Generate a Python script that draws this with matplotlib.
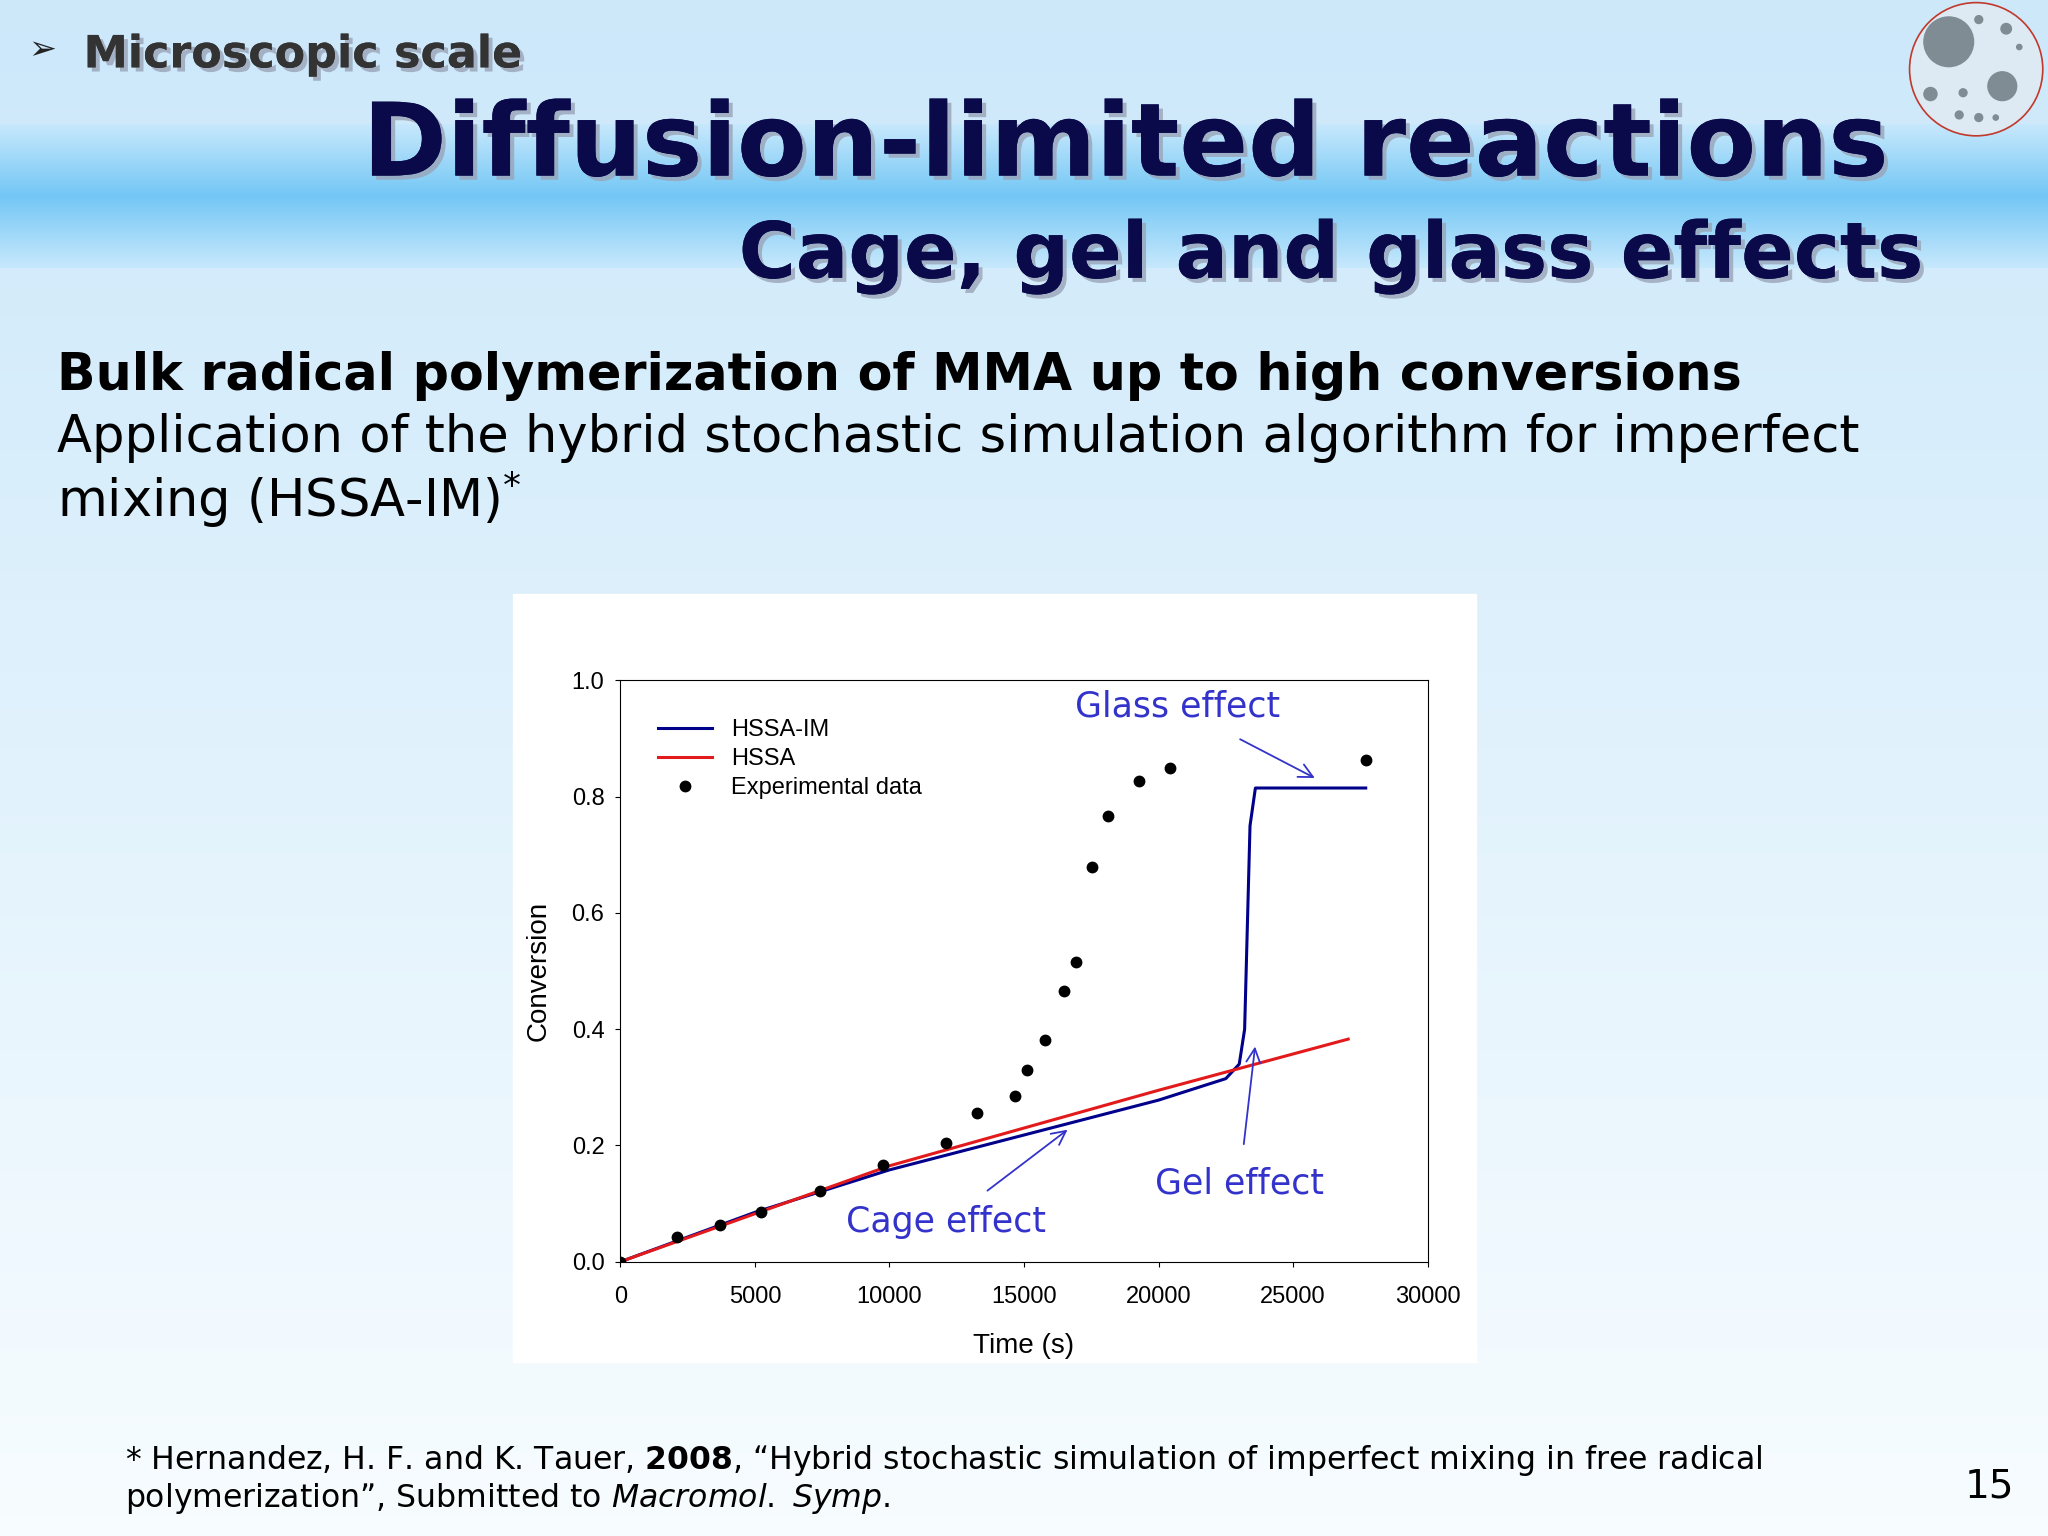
import numpy as np
import matplotlib.pyplot as plt
from matplotlib.patches import Circle, Rectangle
import matplotlib.patheffects as pe

# data
exp_t = [0, 2100, 3700, 5240, 7430, 9760, 12090, 13250, 14660, 15100, 15780, 16500,
         16940, 17520, 18110, 19270, 20440, 27720]
exp_x = [0.0, 0.043, 0.063, 0.085, 0.121, 0.166, 0.204, 0.256, 0.285, 0.33, 0.382,
         0.465, 0.515, 0.679, 0.766, 0.827, 0.849, 0.863]
im_t = [0, 5000, 10000, 15000, 20000, 22500, 23000, 23200, 23400, 23600, 27700]
im_x = [0.0, 0.085, 0.158, 0.218, 0.278, 0.315, 0.34, 0.40, 0.75, 0.815, 0.815]
hssa_t = [0, 10000, 20000, 27050]
hssa_x = [0.0, 0.165, 0.295, 0.383]

W, H = 1568, 1176
fig = plt.figure(figsize=(20.48, 15.36), dpi=100)

# background
bg = fig.add_axes([0, 0, 1, 1])
grad = np.linspace(0, 1, 256)[:, None]
cols = np.zeros((256, 1, 3))
top = np.array([0.80, 0.91, 0.98]); bot = np.array([0.97, 0.99, 1.0])
cols[:, 0, :] = top * (1 - grad) + bot * grad
bg.imshow(cols, extent=[0, W, H, 0], aspect='auto')
band = np.zeros((100, 1, 3))
g = np.abs(np.linspace(-1, 1, 100))[:, None]
band[:, 0, :] = np.array([0.45, 0.78, 0.96]) * (1 - g) + np.array([0.78, 0.91, 0.99]) * g
bg.imshow(band, extent=[0, W, 205, 95], aspect='auto')
bg.add_patch(Rectangle((393, 455), 737, 588, color='white'))
bg.add_patch(Circle((1513, 53), 51, fc='#dde9f3', ec='#c0392b', lw=1.2))
for cx, cy, r in [(1492, 32, 19), (1533, 66, 11), (1478, 72, 5), (1515, 15, 3), (1536, 22, 4),
                  (1503, 71, 3), (1515, 90, 3), (1500, 88, 3), (1528, 90, 2), (1546, 36, 2)]:
    bg.add_patch(Circle((cx, cy), r, color='#7f8c94'))
bg.set_xlim(0, W); bg.set_ylim(H, 0); bg.axis('off')

navy = '#0a0a4a'
shadow = [pe.withSimplePatchShadow(offset=(3, -3), shadow_rgbFace='#9aa4b8', alpha=0.8), pe.Normal()]
bg.text(22, 38, '➢', fontsize=24, color='#222', va='center')
bg.text(64, 42, 'Microscopic scale', fontsize=32, fontweight='bold', color='#333', va='center',
        path_effects=shadow)
bg.text(1446, 113, 'Diffusion-limited reactions', fontsize=73, fontweight='bold', color=navy,
        ha='right', va='center', path_effects=shadow)
bg.text(1472, 196, 'Cage, gel and glass effects', fontsize=56, fontweight='bold', color=navy,
        ha='right', va='center', path_effects=shadow)
bg.text(44, 288, 'Bulk radical polymerization of MMA up to high conversions', fontsize=36.5,
        fontweight='bold', color='black', va='center')
bg.text(44, 335, 'Application of the hybrid stochastic simulation algorithm for imperfect',
        fontsize=36.8, color='black', va='center')
bg.text(44, 382, 'mixing (HSSA-IM)$^{*}$', fontsize=36.8, color='black', va='center')
bg.text(96, 1118, '* Hernandez, H. F. and K. Tauer, $\\bf{2008}$, “Hybrid stochastic simulation of imperfect mixing in free radical',
        fontsize=22.7, va='center')
bg.text(96, 1147, 'polymerization”, Submitted to $\\it{Macromol.\\ Symp.}$', fontsize=22.7, va='center')
bg.text(1542, 1138, '15', fontsize=28, ha='right', va='center')

# chart
arial = 'Liberation Sans'
ax = fig.add_axes([475 / W, 1 - 966 / H, (1093 - 475) / W, (966 - 521) / H])
ax.plot(im_t, im_x, color='#00008b', lw=2.2, label='HSSA-IM')
ax.plot(hssa_t, hssa_x, color='#e31a1c', lw=2.2, label='HSSA')
ax.plot(exp_t, exp_x, 'o', color='black', ms=7.5, label='Experimental data')
ax.set_xlim(0, 30000); ax.set_ylim(0, 1.0)
ax.set_xticks(range(0, 30001, 5000)); ax.set_yticks(np.arange(0, 1.01, 0.2))
ax.set_yticklabels([f'{v:.1f}' for v in np.arange(0, 1.01, 0.2)])
for lab in ax.get_xticklabels() + ax.get_yticklabels():
    lab.set_family(arial)
ax.tick_params(labelsize=17, direction='out', pad=8)
ax.tick_params(axis='x', pad=14)
ax.set_xlabel('Time (s)', fontsize=20, labelpad=18, family=arial)
ax.set_ylabel('Conversion', fontsize=20, labelpad=14, family=arial)
ax.legend(loc='upper left', frameon=False, prop={'family': arial, 'size': 17},
          bbox_to_anchor=(0.02, 0.97), handlelength=2.3, labelspacing=0.3)

blue = '#3333cc'
ax.annotate('Glass effect', xy=(25900, 0.83), xytext=(20700, 0.955), fontsize=25, color=blue,
            ha='center', va='center', arrowprops=dict(arrowstyle='->', color=blue, lw=1.3,
                                                      shrinkA=20))
ax.annotate('Gel effect', xy=(23600, 0.375), xytext=(23000, 0.135), fontsize=25, color=blue,
            ha='center', va='center', arrowprops=dict(arrowstyle='->', color=blue, lw=1.3,
                                                      shrinkA=14))
ax.annotate('Cage effect', xy=(16700, 0.23), xytext=(12100, 0.068), fontsize=25, color=blue,
            ha='center', va='center', arrowprops=dict(arrowstyle='->', color=blue, lw=1.3,
                                                      shrinkA=14))

fig.savefig('out.png', dpi=100)
